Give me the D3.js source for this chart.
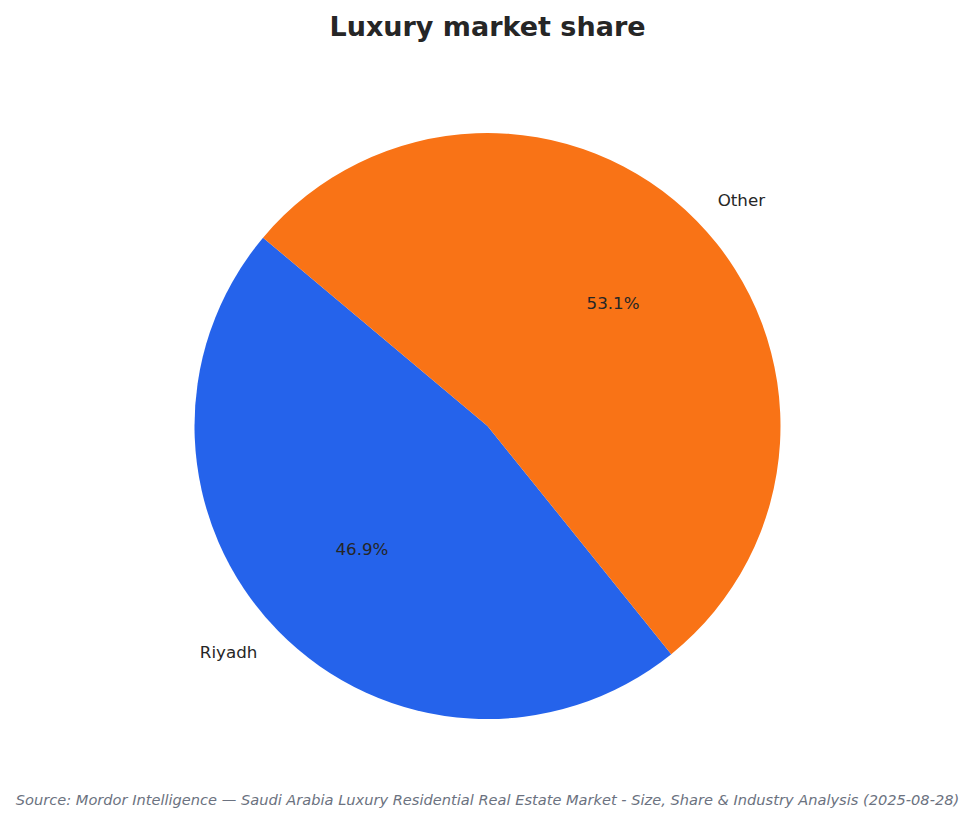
<!DOCTYPE html>
<html><head><meta charset="utf-8">
<script src="https://cdn.jsdelivr.net/npm/d3@7"></script>
<style>body{margin:0;background:#fff}</style>
</head><body>
<svg id="c" width="975" height="823"></svg>
<script>
const categories = ["Riyadh", "Other"];
const values = [46.9, 53.1];
const colors = ["#2563eb", "#f97316"];
const title = "Luxury market share";
const source = "Source: Mordor Intelligence — Saudi Arabia Luxury Residential Real Estate Market - Size, Share & Industry Analysis (2025-08-28)";

const svg = d3.select("#c");
const W = 975, H = 823;
const cx = 487.5, cy = 426, R = 293;
const startDeg = 140;

svg.append("rect").attr("width", W).attr("height", H).attr("fill", "#fff");

// matplotlib counterclockwise from 140deg -> d3 angles (clockwise from 12 o'clock)
const toD3 = deg => (90 - deg) * Math.PI / 180;
const pie = d3.pie().sort(null).value(d => d)
  .startAngle(toD3(startDeg)).endAngle(toD3(startDeg) - 2 * Math.PI);
const arcs = pie(values);
const arc = d3.arc().innerRadius(0).outerRadius(R);

const g = svg.append("g").attr("transform", `translate(${cx},${cy})`);
g.selectAll("path").data(arcs).join("path")
  .attr("d", arc).attr("fill", (d, i) => colors[i]);

const font = "DejaVu Sans, sans-serif";
arcs.forEach((d, i) => {
  const mid = (d.startAngle + d.endAngle) / 2;
  const sx = Math.sin(mid), sy = -Math.cos(mid);
  g.append("text")
    .attr("x", sx * R * 1.1).attr("y", sy * R * 1.1)
    .attr("text-anchor", sx < 0 ? "end" : "start")
    .attr("dominant-baseline", "central")
    .attr("font-family", font).attr("font-size", 16.7).attr("fill", "#262626")
    .text(categories[i]);
  g.append("text")
    .attr("x", sx * R * 0.6).attr("y", sy * R * 0.6)
    .attr("text-anchor", "middle")
    .attr("dominant-baseline", "central")
    .attr("font-family", font).attr("font-size", 16.7).attr("fill", "#262626")
    .text(values[i].toFixed(1) + "%");
});

svg.append("text").attr("x", W / 2).attr("y", 36).attr("text-anchor", "middle")
  .attr("font-family", font).attr("font-weight", "bold").attr("font-size", 27)
  .attr("fill", "#262626").text(title);

svg.append("text").attr("x", W / 2).attr("y", 805).attr("text-anchor", "middle")
  .attr("font-family", font).attr("font-style", "italic").attr("font-size", 14.6)
  .attr("fill", "#6b7280").text(source);
</script>
</body></html>
